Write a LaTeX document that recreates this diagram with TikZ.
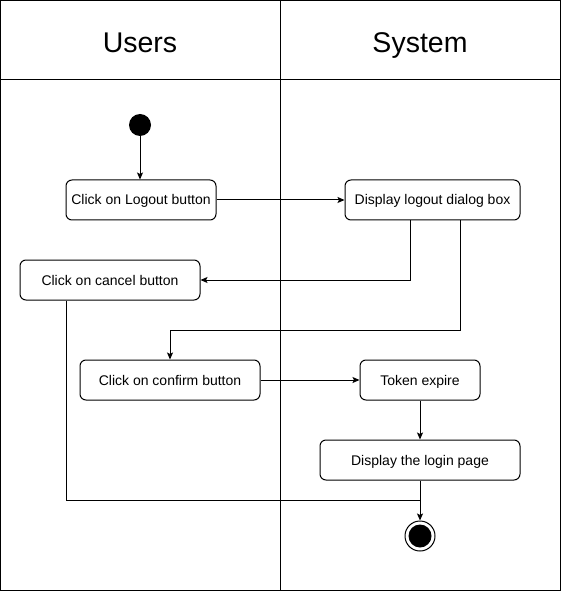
\documentclass[tikz,border=0pt]{standalone}
\usepackage{fontspec}
\setmainfont{Liberation Sans}
\usetikzlibrary{arrows.meta}
\begin{document}
\begin{tikzpicture}[x=1pt,y=-1pt,line width=1pt,
  act/.style={draw,rounded corners=6pt,minimum height=40pt,inner sep=0pt,font=\fontsize{14}{16}\selectfont,text height=10pt,text depth=0pt},
  hdr/.style={font=\fontsize{28.5}{32}\selectfont,text height=20.4pt,text depth=0pt,inner sep=0pt},
  flow/.style={-{Stealth[length=7pt,width=6pt,inset=1.5pt]}}]
\useasboundingbox (0,0) rectangle (563,593);
% swimlanes
\draw (0.5,0.5) rectangle (560.5,590);
\draw (280,0.5) -- (280,590);
\draw (0.5,80) -- (560.5,80);
\node[hdr] (users) at (140,42) {Users};
\node[hdr] (system) at (420,42) {System};
% nodes
\node[circle,fill,inner sep=0pt,minimum size=22pt] (start) at (140,125) {};
\node[act,minimum width=150pt] (logout) at (141,200) {Click on Logout button};
\node[act,minimum width=175pt] (dialog) at (432.5,200) {Display logout dialog box};
\node[act,minimum width=180pt] (cancel) at (110,280) {Click on cancel button};
\node[act,minimum width=180pt] (confirm) at (170,380) {Click on confirm button};
\node[act,minimum width=120pt] (token) at (420,380) {Token expire};
\node[act,minimum width=200pt] (login) at (420,460) {Display the login page};
\node[circle,draw,inner sep=0pt,minimum size=30pt] (end) at (420,536) {};
\node[circle,fill,inner sep=0pt,minimum size=23pt] (endin) at (420,536) {};
\coordinate (merge) at (420,500);
% connectors
\draw[flow] (start) -- (start |- logout.north);
\draw[flow] (logout.east) -- (dialog.west);
\draw[flow] (dialog.south -| 410,0) |- (cancel.east);
\draw[flow] (dialog.south -| 460,0) -- (460,330) -| (confirm.north);
\draw[flow] (confirm.east) -- (token.west);
\draw[flow] (token.south) -- (login.north);
\draw[flow] (login.south) -- (end.north);
\draw (cancel.south -| 66,0) |- (merge);
\end{tikzpicture}
\end{document}
